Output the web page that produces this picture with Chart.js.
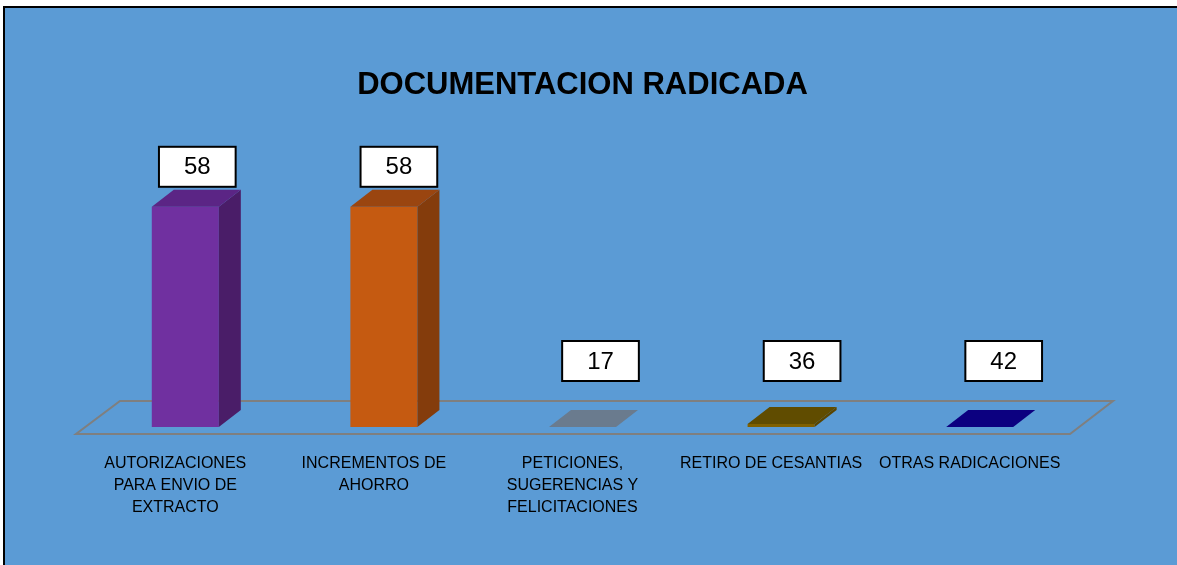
<!DOCTYPE html>
<html>
<head>
<meta charset="utf-8">
<script src="https://cdn.jsdelivr.net/npm/chart.js@4"></script>
<style>
  body { margin: 0; background: #fff; }
  canvas { display: block; }
</style>
</head>
<body>
<canvas id="docChart" width="1177" height="565"></canvas>
<script>
// Documentacion radicada
const categorias = [
    ['AUTORIZACIONES', 'PARA ENVIO DE', 'EXTRACTO'],
    ['INCREMENTOS DE', 'AHORRO'],
    ['PETICIONES,', 'SUGERENCIAS Y', 'FELICITACIONES'],
    'RETIRO DE CESANTIAS',
    'OTRAS RADICACIONES'
];
// altura dibujada de las barras (como se ve en la imagen)
const alturas = [58, 58, 0, 0.8, 0];
// texto de las etiquetas
const etiquetas = [58, 58, 17, 36, 42];

const frente = ['#7030A0', '#C55A11', '#6A7B8E', '#7F6000', '#0C0080'];
const lado = ['#4A1D68', '#843C0C', '#56667A', '#5A4500', '#07005E'];
const tapa = ['#5B2585', '#9A4510', '#6A7B8E', '#604C00', '#0C0080'];

const DX = 22, DY = -17;

const fondo = {
    id: 'fondo',
    beforeDraw(chart) {
        const c = chart.ctx;
        c.save();
        c.fillStyle = '#fff';
        c.fillRect(0, 0, chart.width, chart.height);
        c.fillStyle = '#000';
        c.fillRect(3, 6, chart.width, chart.height);
        c.fillStyle = '#5B9BD5';
        c.fillRect(5, 8, chart.width, chart.height);
        c.restore();
    }
};

const piso = {
    id: 'piso',
    beforeDatasetsDraw(chart) {
        const a = chart.chartArea, c = chart.ctx;
        c.save();
        c.strokeStyle = '#7F7F7F';
        c.lineWidth = 2;
        c.beginPath();
        c.moveTo(a.left - 10, a.bottom + 7);
        c.lineTo(a.right - 9, a.bottom + 7);
        c.lineTo(a.right + 34, a.bottom - 26);
        c.lineTo(a.left + 34, a.bottom - 26);
        c.closePath();
        c.stroke();
        c.restore();
    }
};

const barras3d = {
    id: 'barras3d',
    afterDatasetsDraw(chart) {
        const c = chart.ctx;
        const meta = chart.getDatasetMeta(0);
        c.save();
        meta.data.forEach((bar, i) => {
            const x0 = bar.x - bar.width / 2, x1 = bar.x + bar.width / 2;
            const yt = bar.y, yb = bar.base;
            // lado
            c.fillStyle = lado[i];
            c.beginPath();
            c.moveTo(x1, yt);
            c.lineTo(x1 + DX, yt + DY);
            c.lineTo(x1 + DX, yb + DY);
            c.lineTo(x1, yb);
            c.closePath();
            c.fill();
            // tapa
            c.fillStyle = tapa[i];
            c.beginPath();
            c.moveTo(x0, yt);
            c.lineTo(x1, yt);
            c.lineTo(x1 + DX, yt + DY);
            c.lineTo(x0 + DX, yt + DY);
            c.closePath();
            c.fill();
        });
        // etiquetas
        c.font = '24px "Liberation Sans", Arial, sans-serif';
        c.textAlign = 'center';
        c.textBaseline = 'middle';
        meta.data.forEach((bar, i) => {
            const txt = String(etiquetas[i]);
            const w = c.measureText(txt).width + 50;
            const h = 40;
            const bottom = Math.min(bar.y + DY - 3, bar.base - 46);
            const cx = bar.x + 12 + i * 3;
            c.fillStyle = '#fff';
            c.fillRect(cx - w / 2, bottom - h, w, h);
            c.strokeStyle = '#000';
            c.lineWidth = 2;
            c.strokeRect(cx - w / 2, bottom - h, w, h);
            c.fillStyle = '#000';
            c.fillText(txt, cx, bottom - h / 2 + 1);
        });
        c.restore();
    }
};

new Chart(document.getElementById('docChart'), {
    type: 'bar',
    data: {
        labels: categorias,
        datasets: [{
            data: alturas,
            backgroundColor: frente,
            borderWidth: 0,
            categoryPercentage: 1,
            barPercentage: 0.3375
        }]
    },
    options: {
        responsive: false,
        animation: false,
        layout: { padding: { left: 86, right: 98, top: 0, bottom: 0 } },
        plugins: {
            legend: { display: false },
            tooltip: { enabled: false },
            title: {
                display: true,
                text: 'DOCUMENTACION RADICADA',
                color: '#000',
                font: { family: '"Liberation Sans", Arial, sans-serif', size: 31, weight: 'bold' },
                padding: { top: 67, bottom: 95 }
            }
        },
        scales: {
            x: {
                grid: { display: false },
                border: { display: false },
                ticks: {
                    color: '#000',
                    maxRotation: 0,
                    autoSkip: false,
                    padding: 18,
                    labelOffset: -10,
                    font: { family: '"Liberation Sans", Arial, sans-serif', size: 16, lineHeight: 1.375 }
                },
                afterFit(scale) { scale.height = 138; }
            },
            y: {
                display: false,
                min: 0,
                max: 60
            }
        }
    },
    plugins: [fondo, piso, barras3d]
});
</script>
</body>
</html>
